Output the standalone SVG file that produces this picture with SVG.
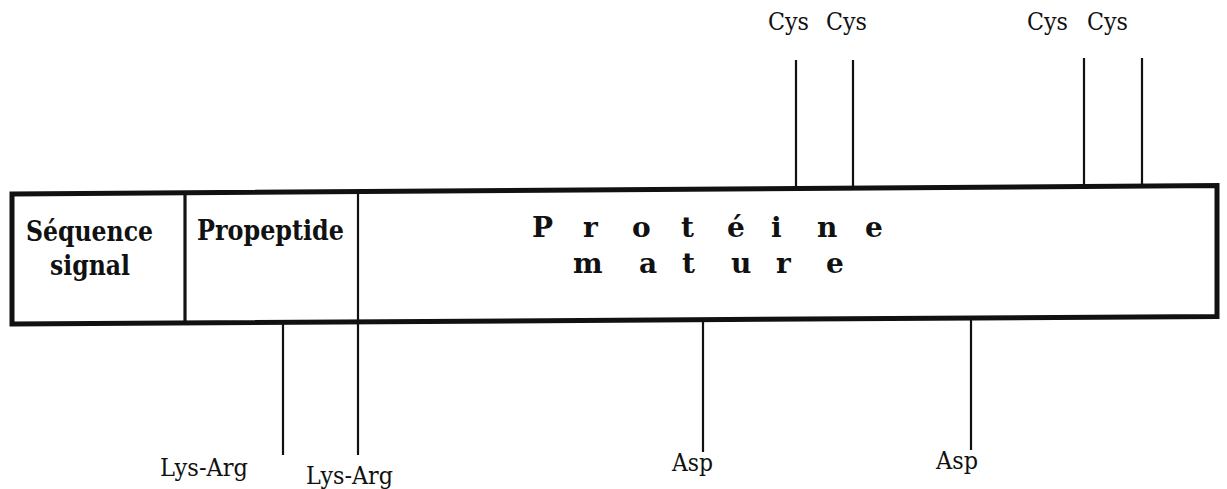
<svg xmlns="http://www.w3.org/2000/svg" width="1227" height="489" viewBox="0 0 1227 489">
  <style>
    .site { font-family: "DejaVu Serif", "Liberation Serif", Times, serif; font-size: 24px; fill: #111; }
    .box { font-family: "DejaVu Serif", "Liberation Serif", Times, serif; font-size: 28px; font-weight: bold; fill: #111; }
    .tick { stroke: #111; stroke-width: 2.2; fill: none; }
  </style>
  <rect width="1227" height="489" fill="#fff"/>

  <!-- precursor bar, split into three domains -->
  <g id="precursor">
    <polygon points="12,194 1217,185.5 1217,316.5 12,324" fill="#fff" stroke="#111" stroke-width="5" stroke-linejoin="miter"/>
  </g>
  <g id="signal-sequence">
    <line x1="185" y1="192" x2="185" y2="323" stroke="#111" stroke-width="3.2"/>
    <text class="box" x="26" y="241" textLength="127" lengthAdjust="spacingAndGlyphs">Séquence</text>
    <text class="box" x="50" y="275" textLength="80" lengthAdjust="spacingAndGlyphs">signal</text>
  </g>
  <g id="propeptide">
    <line x1="358" y1="191" x2="358" y2="322" stroke="#111" stroke-width="2.2"/>
    <text class="box" x="197" y="240" textLength="147" lengthAdjust="spacingAndGlyphs">Propeptide</text>
  </g>
  <g id="mature-protein">
    <text class="box" x="532 583 632 681 727 771 817 865" y="237">Protéine</text>
    <text class="box" x="573 639 682 731 776 826" y="273">mature</text>
  </g>

  <!-- residue markers -->
  <g id="connectors">
    <line class="tick" x1="796" y1="60" x2="796" y2="188"/>
    <line class="tick" x1="853" y1="60" x2="853" y2="188"/>
    <line class="tick" x1="1084" y1="58" x2="1084" y2="186"/>
    <line class="tick" x1="1142" y1="58" x2="1142" y2="186"/>
    <line class="tick" x1="283" y1="324" x2="283" y2="455"/>
    <line class="tick" x1="358" y1="322" x2="358" y2="455"/>
    <line class="tick" x1="703" y1="320" x2="703" y2="452"/>
    <line class="tick" x1="971" y1="318" x2="971" y2="450"/>
  </g>

  <g id="labels">
    <text class="site" x="768" y="30" textLength="41" lengthAdjust="spacingAndGlyphs">Cys</text>
    <text class="site" x="826" y="30" textLength="41" lengthAdjust="spacingAndGlyphs">Cys</text>
    <text class="site" x="1027" y="30" textLength="41" lengthAdjust="spacingAndGlyphs">Cys</text>
    <text class="site" x="1087" y="30" textLength="41" lengthAdjust="spacingAndGlyphs">Cys</text>
    <text class="site" x="160" y="476" textLength="88" lengthAdjust="spacingAndGlyphs">Lys-Arg</text>
    <text class="site" x="306" y="484" textLength="87" lengthAdjust="spacingAndGlyphs">Lys-Arg</text>
    <text class="site" x="672" y="471" textLength="41" lengthAdjust="spacingAndGlyphs">Asp</text>
    <text class="site" x="936" y="469" textLength="42" lengthAdjust="spacingAndGlyphs">Asp</text>
  </g>
</svg>
